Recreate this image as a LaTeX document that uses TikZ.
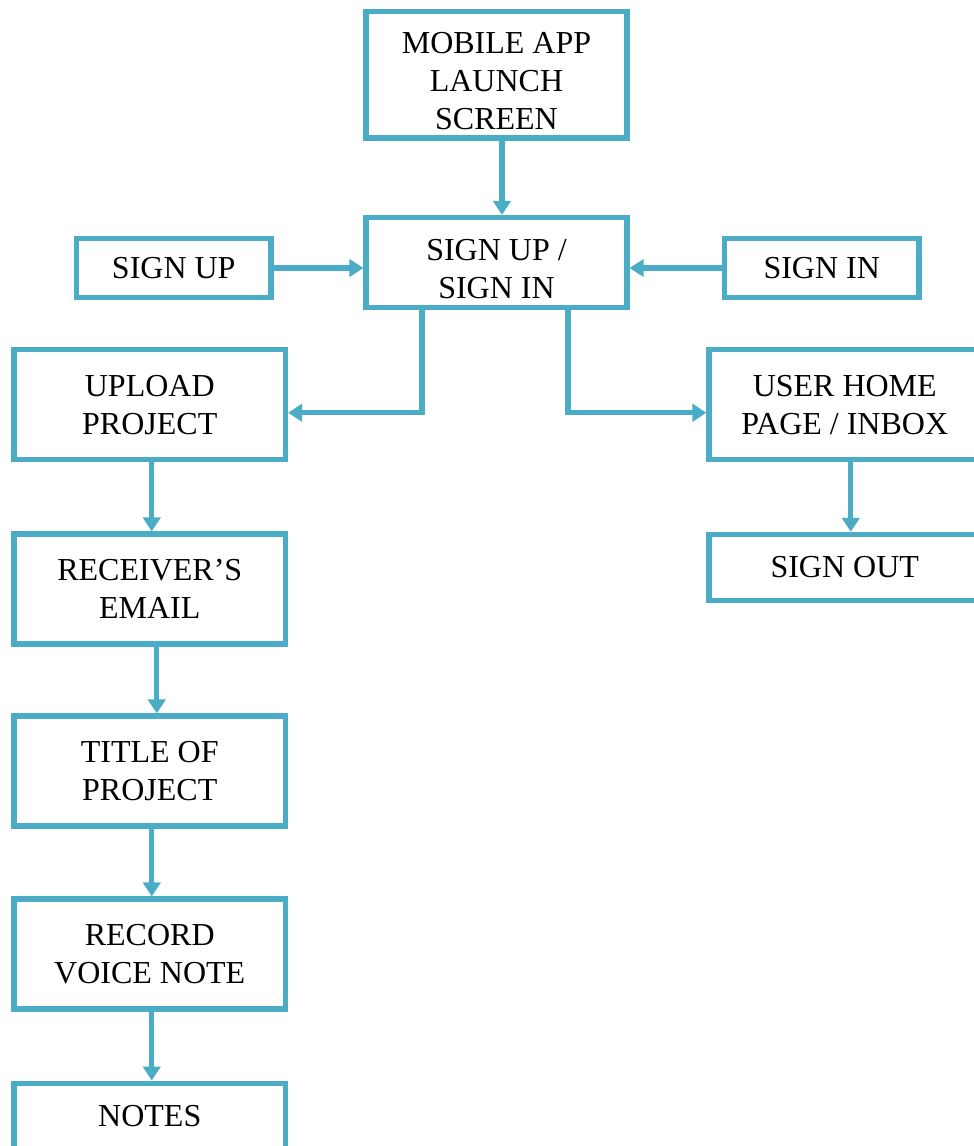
\documentclass[tikz,border=0pt]{standalone}
\usepackage{fontspec}
\setmainfont{Liberation Serif}
\definecolor{flow_teal}{RGB}{75, 172, 198}
\usetikzlibrary{arrows.meta, calc}

\begin{document}
\begin{tikzpicture}[
    x=0.75pt, y=-0.75pt,
    fbox/.style={rectangle, draw=flow_teal, line width=4pt, fill=white,
                 font=\fontsize{24}{28.5}\selectfont, align=center, inner sep=0pt},
    tbox/.style={fbox, minimum width=195.75pt},
    sbox/.style={fbox, minimum width=145.9pt, minimum height=44.25pt},
    pbox/.style={fbox, minimum width=203.6pt, minimum height=82.5pt},
    arr/.style={-{Triangle[width=13pt, length=10.5pt]}, draw=flow_teal, line width=4pt},
  ]
  \clip (0,0) rectangle (974,1146);

  % top row
  \node[tbox, minimum height=94.9pt, text height=81.4pt, text depth=0pt] (launch)
    at (496.5, 74.75) {MOBILE APP\\LAUNCH\\SCREEN};
  \node[tbox, minimum height=67.5pt, text height=53.25pt, text depth=0pt] (signio)
    at (496.5, 262.5) {SIGN UP /\\SIGN IN};
  \node[sbox] (signup) at (173.75, 268) {SIGN UP};
  \node[sbox] (signin) at (821.75, 268) {SIGN IN};

  % left column
  \node[pbox] (upload) at (149.75, 404.75) {UPLOAD\\PROJECT};
  \node[pbox] (rcv)    at (149.75, 589)    {RECEIVER’S\\EMAIL};
  \node[pbox] (title)  at (149.75, 771)    {TITLE OF\\PROJECT};
  \node[pbox] (voice)  at (149.75, 954)    {RECORD\\VOICE NOTE};
  \node[pbox, minimum height=50pt] (notes) at (149.75, 1116.5) {NOTES};

  % right column
  \node[pbox] (home)    at (844.75, 404.75) {USER HOME\\PAGE / INBOX};
  \node[pbox, minimum height=49.5pt] (signout) at (844.75, 567.5) {SIGN OUT};

  \draw[arr] ($(launch.south)+(5.5,0)$) -- ($(signio.north)+(5.5,0)$);
  \draw[arr] (signup.east) -- (signup.east -| signio.west);
  \draw[arr] (signin.west) -- (signin.west -| signio.east);
  \draw[arr] ($(signio.south)+(-74.5,0)$) |- ($(upload.east)+(0,8)$);
  \draw[arr] ($(signio.south)+(71.5,0)$) |- ($(home.west)+(0,8)$);
  \draw[arr] ($(home.south)+(6,0)$) -- ($(signout.north)+(6,0)$);

  \draw[arr] ($(upload.south)+(2,0)$) -- ($(rcv.north)+(2,0)$);
  \draw[arr] ($(rcv.south)+(7,0)$) -- ($(title.north)+(7,0)$);
  \draw[arr] ($(title.south)+(2,0)$) -- ($(voice.north)+(2,0)$);
  \draw[arr] ($(voice.south)+(2,0)$) -- ($(notes.north)+(2,0)$);
\end{tikzpicture}
\end{document}
